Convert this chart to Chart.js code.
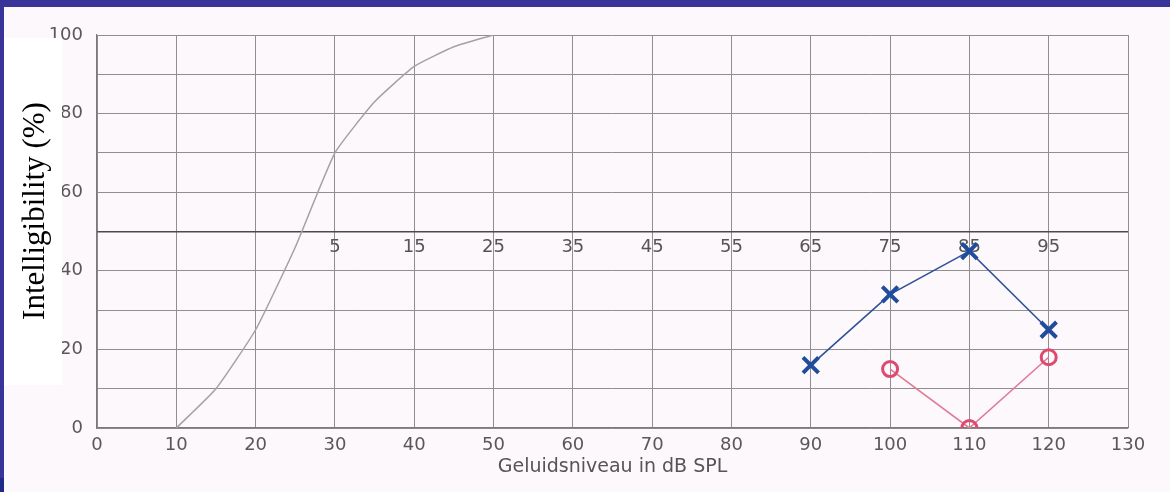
<!DOCTYPE html>
<html>
<head>
<meta charset="utf-8">
<script src="https://cdn.jsdelivr.net/npm/chart.js@4/dist/chart.umd.min.js"></script>
<style>
  html, body { margin: 0; padding: 0; background: #fcf8fc; }
  canvas { display: block; }
</style>
</head>
<body>
<canvas id="c" width="1170" height="492"></canvas>
<script>
// ---- data ----
const normalX = [10, 15, 20, 25, 30, 35, 40, 45, 50];
const normalY = [0, 10, 25, 46, 70, 83, 92, 97, 100];

const crossX = [90, 100, 110, 120];
const crossY = [16, 34, 45, 25];

const circleX = [100, 110, 120];
const circleY = [15, 0, 18];

// dB HL labels shown along the 50% line, at these SPL positions
const hlPositions = [30, 40, 50, 60, 70, 80, 90, 100, 110, 120];
const hlLabels = ['5', '15', '25', '35', '45', '55', '65', '75', '85', '95'];

const xTitle = 'Geluidsniveau in dB SPL';
const yTitle = 'Intelligibility (%)';

const pts = (xs, ys) => xs.map((x, i) => ({ x: x, y: ys[i] }));

const framePlugin = {
  id: 'frame',
  beforeDraw(chart) {
    const ctx = chart.ctx;
    ctx.save();
    ctx.fillStyle = '#fcf8fc';
    ctx.fillRect(0, 0, chart.width, chart.height);
    ctx.fillStyle = '#38349a';
    ctx.fillRect(0, 0, chart.width, 7);
    ctx.fillRect(0, 0, 4, 478);
    ctx.fillStyle = '#1f2a86';
    ctx.fillRect(0, 478, 4, chart.height - 478);
    ctx.restore();
  },
  beforeDatasetsDraw(chart) {
    const ctx = chart.ctx;
    const xs = chart.scales.x, ys = chart.scales.y;
    ctx.save();
    ctx.font = '18px "DejaVu Sans"';
    ctx.fillStyle = '#555555';
    ctx.textAlign = 'center';
    ctx.textBaseline = 'middle';
    const yy = ys.getPixelForValue(50) + 16;
    hlPositions.forEach((p, i) => {
      ctx.fillText(hlLabels[i], xs.getPixelForValue(p), yy);
    });
    ctx.restore();
  },
  afterDraw(chart) {
    const ctx = chart.ctx;
    ctx.save();
    ctx.fillStyle = '#ffffff';
    ctx.fillRect(4, 38, 58, 347);
    ctx.translate(36, 211);
    ctx.rotate(-Math.PI / 2);
    ctx.font = '31px "Liberation Serif"';
    ctx.fillStyle = '#000000';
    ctx.textAlign = 'center';
    ctx.textBaseline = 'middle';
    ctx.fillText(yTitle, 0, 0);
    ctx.restore();
  }
};

new Chart(document.getElementById('c'), {
  type: 'line',
  data: {
    datasets: [
      {
        data: pts(normalX, normalY),
        borderColor: '#a3a3a3',
        borderWidth: 1.5,
        pointRadius: 0,
        tension: 0.15,
        fill: false
      },
      {
        data: pts(crossX, crossY),
        borderColor: '#2f5199',
        borderWidth: 1.6,
        pointStyle: 'crossRot',
        pointRadius: 11,
        pointBorderWidth: 4,
        pointBorderColor: '#1f4c9c',
        tension: 0,
        fill: false
      },
      {
        data: pts(circleX, circleY),
        borderColor: '#e27a95',
        borderWidth: 1.6,
        pointStyle: 'circle',
        pointRadius: 7.5,
        pointBorderWidth: 3,
        pointBorderColor: '#e0496f',
        pointBackgroundColor: 'rgba(255,255,255,0)',
        tension: 0,
        fill: false
      }
    ]
  },
  options: {
    responsive: false,
    animation: false,
    layout: { padding: { left: 0, top: 35, right: 42, bottom: 0 } },
    plugins: { legend: { display: false }, tooltip: { enabled: false } },
    elements: { point: { hoverRadius: 0 } },
    scales: {
      x: {
        type: 'linear',
        min: 0, max: 130,
        afterFit(s) { s.height = 64; },
        ticks: {
          stepSize: 10,
          color: '#585858',
          font: { family: 'DejaVu Sans', size: 18 },
          padding: 7,
          maxRotation: 0
        },
        grid: { color: '#8f8f8f', lineWidth: 1, drawTicks: false },
        border: { color: '#7a7a7a', width: 1.2 },
        title: {
          display: true,
          text: xTitle,
          color: '#555555',
          font: { family: 'DejaVu Sans', size: 19 },
          padding: { top: 0, bottom: 14 }
        }
      },
      y: {
        min: 0, max: 100,
        afterFit(s) { s.width = 97; },
        ticks: {
          stepSize: 10,
          color: '#585858',
          font: { family: 'DejaVu Sans', size: 18 },
          padding: 14,
          callback: v => (v % 20 === 0 ? String(v) : '')
        },
        grid: {
          color: c => (c.tick && c.tick.value === 50 ? '#4a4a4a' : '#8f8f8f'),
          lineWidth: c => (c.tick && c.tick.value === 50 ? 1.6 : 1),
          drawTicks: false
        },
        border: { color: '#7a7a7a', width: 1.2 }
      }
    }
  },
  plugins: [framePlugin]
});
</script>
</body>
</html>
